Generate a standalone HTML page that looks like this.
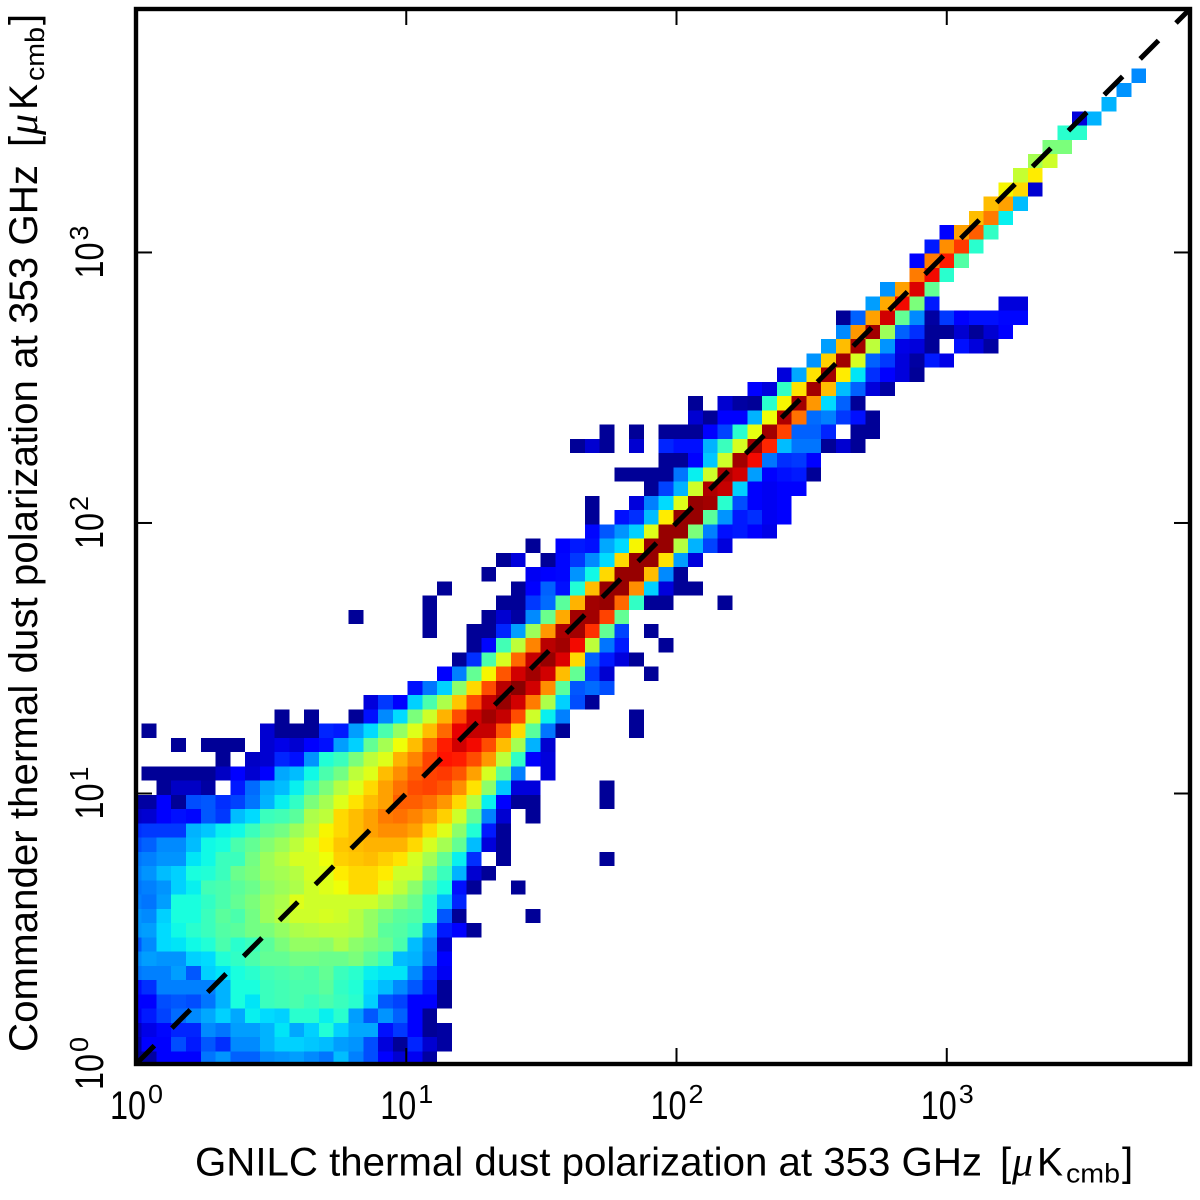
<!DOCTYPE html>
<html lang="en">
<head>
<meta charset="utf-8">
<title>GNILC vs Commander thermal dust polarization at 353 GHz</title>
<style>
html,body{margin:0;padding:0;background:#fff;width:1200px;height:1200px;overflow:hidden}
svg{display:block}
text{font-family:"Liberation Sans","DejaVu Sans",sans-serif;fill:#000}
.math{font-family:"Liberation Serif","DejaVu Serif",serif;font-style:italic}
</style>
</head>
<body>
<svg id="chart" xmlns="http://www.w3.org/2000/svg" width="1200" height="1200" viewBox="0 0 1200 1200">
  <defs>
    <clipPath id="plot-clip"><rect x="136" y="9" width="1054" height="1055"></rect></clipPath>
  </defs>
  <g id="cells" clip-path="url(#plot-clip)" shape-rendering="crispEdges"></g>
  <g id="identity" clip-path="url(#plot-clip)"></g>
  <g id="ticks"></g>
  <rect x="136" y="9" width="1054" height="1055" fill="none" stroke="#000" stroke-width="4.4"></rect>
  <g id="tick-labels"></g>

  <g transform="translate(195,1175.7)">
    <text x="0" y="0" font-size="40" textLength="787" lengthAdjust="spacingAndGlyphs">GNILC thermal dust polarization at 353 GHz</text>
    <text x="805" y="0" font-size="40">[</text>
    <text class="math" x="817" y="0" font-size="42">μ</text>
    <text x="842" y="0" font-size="40" textLength="26" lengthAdjust="spacingAndGlyphs">K</text>
    <text x="871" y="7" font-size="27" textLength="54" lengthAdjust="spacingAndGlyphs">cmb</text>
    <text x="927" y="0" font-size="40">]</text>
  </g>
  <g transform="translate(37,1052) rotate(-90)">
    <text x="0" y="0" font-size="40" textLength="887" lengthAdjust="spacingAndGlyphs">Commander thermal dust polarization at 353 GHz</text>
    <text x="905" y="0" font-size="40">[</text>
    <text class="math" x="917" y="0" font-size="42">μ</text>
    <text x="942" y="0" font-size="40" textLength="26" lengthAdjust="spacingAndGlyphs">K</text>
    <text x="971" y="7" font-size="27" textLength="54" lengthAdjust="spacingAndGlyphs">cmb</text>
    <text x="1027" y="0" font-size="40">]</text>
  </g>
</svg>
<script>
// Decade exponents printed on both axes
const tickExponents = [0, 1, 2, 3];
// Ends of the y = x reference line, in data units
const identityValues = [1, 7943];
// First column index of every row (row 0 is the bottom row)
const rowFirstColumn = [
  0,0,0,0,0,0,0,0,0,0,
  0,0,0,0,0,0,0,0,0,2,
  1,6,3,1,10,16,19,21,22,23,
  20,15,20,21,24,25,27,31,31,31,
  35,33,36,30,32,38,38,42,44,46,
  47,48,48,50,51,53,53,54,55,57,
  58,59,60,61,62,63,64,66,67,68
];
// Log-density level (0-100) per cell, 0 means an empty bin
const rowDensity = [
  [2,3,12,12,12,24,27,22,22,26,27,28,26,24,31,25,20,11,7,10,3],
  [3,11,12,20,15,21,17,26,26,30,33,33,32,31,28,27,20,8,2,16,7,3],
  [5,9,13,16,16,26,24,28,28,30,35,29,33,39,33,29,29,14,18,12,2,3],
  [10,15,19,23,26,29,33,29,36,34,33,40,40,36,40,28,21,27,22,12,2],
  [12,11,20,21,20,24,30,38,35,42,43,44,42,44,42,40,33,21,19,12,12,2],
  [14,17,25,25,25,25,30,38,38,42,43,44,44,46,41,39,34,31,26,21,15,2],
  [24,25,25,28,21,33,35,38,40,43,44,45,44,47,42,40,36,35,35,26,17,10],
  [26,28,27,27,33,34,39,41,44,47,47,49,49,48,48,50,46,42,31,30,24,12],
  [21,26,34,35,37,39,44,40,42,46,50,53,53,52,56,52,50,48,44,31,25,7],
  [27,28,34,37,40,42,45,46,49,50,53,56,57,58,58,57,53,46,45,42,29,15,12,2],
  [27,26,33,38,38,42,46,44,49,54,57,60,60,61,60,57,53,49,46,45,40,21,2,0,0,0,0,2],
  [25,24,28,38,38,41,44,47,50,54,56,62,60,60,60,60,60,56,52,48,40,31,16],
  [24,25,27,33,36,43,44,46,48,52,54,56,60,62,64,68,68,62,58,52,44,38,14,2,0,0,2],
  [25,27,31,33,38,39,42,48,50,54,55,57,61,62,66,68,68,66,60,60,49,42,30,7,2],
  [24,25,27,27,35,37,42,42,49,54,57,61,61,64,69,70,71,69,67,61,55,47,36,17,0,2,0,0,0,0,0,0,2],
  [20,22,26,26,31,37,38,44,47,51,54,58,62,66,70,71,72,72,72,68,61,55,47,31,8,2],
  [17,18,18,18,30,32,36,37,42,47,49,54,58,65,68,71,74,76,76,74,68,62,52,39,15,2],
  [6,7,11,14,13,21,18,31,34,42,43,46,56,58,68,71,74,78,79,77,74,69,60,47,25,7,0,2],
  [3,3,11,2,20,21,17,19,24,30,36,41,50,55,62,67,71,74,81,81,79,75,68,57,36,12,2,2,0,0,0,0,2],
  [2,6,6,3,0,15,23,29,31,36,43,50,57,62,68,74,79,83,84,82,76,67,52,32,8,8,0,0,0,0,2],
  [2,2,2,2,2,6,12,7,12,29,31,37,44,49,58,62,71,76,81,84,85,82,74,61,46,25,0,8],
  [2,0,6,7,16,14,27,39,42,50,58,62,72,77,84,89,88,83,75,58,41,12,8],
  [2,0,2,2,2,0,7,9,7,11,14,28,33,47,55,64,71,80,88,93,90,83,71,55,30,7],
  [2,0,0,0,0,0,0,0,7,2,2,2,16,15,28,34,44,53,62,71,80,91,94,94,82,68,46,24,2,0,0,0,0,2],
  [2,0,2,0,0,2,14,26,34,50,60,72,83,93,97,94,83,60,36,25,0,0,0,0,2],
  [8,18,12,33,44,56,70,83,94,98,93,78,56,33,20,2],
  [14,24,33,52,68,83,95,99,93,76,46,21,23,20],
  [12,25,47,65,82,93,97,93,71,47,18,7,0,0,2],
  [2,17,44,61,80,94,98,92,68,22,15,8,2],
  [2,13,43,58,77,95,97,90,58,24,15,0,0,2],
  [2,0,0,2,2,16,28,54,75,96,97,86,47,19,0,2],
  [2,0,0,0,0,2,0,0,0,2,7,3,26,48,73,97,97,84,47],
  [2,0,0,0,0,2,2,18,23,46,72,97,98,80,41,2,2,0,0,0,2],
  [2,0,0,0,0,2,12,22,14,39,71,98,98,76,33,8,2,2],
  [2,0,0,10,11,13,27,37,68,98,98,71,26,2],
  [2,8,0,2,13,18,26,34,68,98,98,67,28,8],
  [2,0,12,15,14,29,34,65,98,98,57,30,19,8],
  [13,21,27,33,62,98,98,50,25,14,15,11,9],
  [2,0,14,17,31,66,98,98,46,27,15,17,10,12],
  [2,0,0,8,25,34,62,98,97,40,20,12,10,12],
  [2,19,30,60,96,94,33,12,10,12,12],
  [2,2,2,2,24,36,60,96,93,28,12,14,15,2],
  [2,2,12,32,60,97,90,24,17,18,12],
  [2,7,2,0,7,0,16,14,14,30,42,61,97,87,31,24,24,2,7,2],
  [2,0,2,0,2,2,2,12,19,40,63,97,84,22,22,16,0,2,2],
  [7,2,12,12,30,64,96,79,23,25,18,14,2],
  [2,0,7,3,2,40,65,97,75,34,22,2],
  [12,8,41,67,97,71,31,22,8,3],
  [8,29,67,97,66,35,17,12,8,2],
  [27,69,97,61,22,18,8,3,15,9],
  [28,71,97,58,27,9,8,2,0,14,8,3],
  [26,75,97,54,22,17,2,2,7,2,7,12],
  [2,22,74,93,47,26,3,18,12,14,14,13,13],
  [28,73,90,50,15,0,0,0,0,8,8],
  [27,74,92,47],
  [78,90,40],
  [12,78,88,45],
  [15,76,85,40],
  [12,74,81,41],
  [71,78,36],
  [71,74,31],
  [65,68,7],
  [59,66],
  [55,60],
  [50,50],
  [40,40],
  [8,30],
  [30],
  [27],
  [26]
];

const SVG_NS = 'http://www.w3.org/2000/svg';
const plotLeft = 136, plotRight = 1190, plotTop = 9, plotBottom = 1064;
const decades = 3.9;
const xBinStart = -0.03355, xBinStep = 0.05465;
const yBinStart = -0.0056, yBinStep = 0.05265;

function xScale(value) {
  return plotLeft + Math.log10(value) / decades * (plotRight - plotLeft);
}
function yScale(value) {
  return plotBottom - Math.log10(value) / decades * (plotBottom - plotTop);
}
function columnEdge(i) {
  return Math.pow(10, xBinStart + i * xBinStep);
}
function rowEdge(i) {
  return Math.pow(10, yBinStart + i * yBinStep);
}
function lerpStops(stops, t) {
  for (let i = 1; i < stops.length; i++) {
    if (t <= stops[i][0]) {
      const a = stops[i - 1], b = stops[i];
      return a[1] + (b[1] - a[1]) * (t - a[0]) / (b[0] - a[0]);
    }
  }
  return stops[stops.length - 1][1];
}
function jet(t) {
  const r = lerpStops([[0,0],[0.35,0],[0.66,1],[0.89,1],[1,0.5]], t);
  const g = lerpStops([[0,0],[0.125,0],[0.375,1],[0.64,1],[0.91,0],[1,0]], t);
  const b = lerpStops([[0,0.5],[0.11,1],[0.34,1],[0.65,0],[1,0]], t);
  return 'rgb(' + Math.round(r * 255) + ',' + Math.round(g * 255) + ',' + Math.round(b * 255) + ')';
}

const cellGroup = document.getElementById('cells');
rowDensity.forEach(function (levels, row) {
  levels.forEach(function (level, k) {
    if (!level) return;
    const col = rowFirstColumn[row] + k;
    const x0 = xScale(columnEdge(col));
    const x1 = xScale(columnEdge(col + 1));
    const y0 = yScale(rowEdge(row + 1));
    const y1 = yScale(rowEdge(row));
    const rect = document.createElementNS(SVG_NS, 'rect');
    rect.setAttribute('x', x0.toFixed(2));
    rect.setAttribute('y', y0.toFixed(2));
    rect.setAttribute('width', (x1 - x0).toFixed(2));
    rect.setAttribute('height', (y1 - y0).toFixed(2));
    rect.setAttribute('fill', jet(level / 100));
    
    
    cellGroup.appendChild(rect);
  });
});

const identityLine = document.createElementNS(SVG_NS, 'line');
identityLine.setAttribute('x1', xScale(identityValues[0]));
identityLine.setAttribute('y1', yScale(identityValues[0]));
identityLine.setAttribute('x2', xScale(identityValues[1]));
identityLine.setAttribute('y2', yScale(identityValues[1]));
identityLine.setAttribute('stroke', '#000');
identityLine.setAttribute('stroke-width', '5');
identityLine.setAttribute('stroke-dasharray', '26 24.74');


document.getElementById('identity').appendChild(identityLine);

const tickGroup = document.getElementById('ticks');
const tickLabelGroup = document.getElementById('tick-labels');
function addTick(x1, y1, x2, y2) {
  const tick = document.createElementNS(SVG_NS, 'line');
  tick.setAttribute('x1', x1);
  tick.setAttribute('y1', y1);
  tick.setAttribute('x2', x2);
  tick.setAttribute('y2', y2);
  tick.setAttribute('stroke', '#000');
  tick.setAttribute('stroke-width', '2');
  
  
  tickGroup.appendChild(tick);
}
function addLabel(parent, str, x, y, size, len) {
  const label = document.createElementNS(SVG_NS, 'text');
  label.setAttribute('x', x);
  label.setAttribute('y', y);
  label.setAttribute('font-size', size);
  label.setAttribute('textLength', len);
  label.setAttribute('lengthAdjust', 'spacingAndGlyphs');
  
  
  label.textContent = str;
  parent.appendChild(label);
}
tickExponents.forEach(function (exp) {
  const value = Math.pow(10, exp);
  const tx = xScale(value);
  const ty = yScale(value);
  if (exp > 0) {
    addTick(tx, plotBottom, tx, plotBottom - 16);
    addTick(tx, plotTop, tx, plotTop + 16);
    addTick(plotLeft, ty, plotLeft + 16, ty);
    addTick(plotRight, ty, plotRight - 16, ty);
  }
  addLabel(tickLabelGroup, '10', tx - 26, 1119, 40, 36);
  addLabel(tickLabelGroup, String(exp), tx + 12, 1103, 26, 15);
  const rotated = document.createElementNS(SVG_NS, 'g');
  rotated.setAttribute('transform', 'translate(103,' + ty + ') rotate(-90)');
  
  
  addLabel(rotated, '10', -26, 0, 40, 36);
  addLabel(rotated, String(exp), 12, -15, 26, 15);
  tickLabelGroup.appendChild(rotated);
});
</script>
</body>
</html>
